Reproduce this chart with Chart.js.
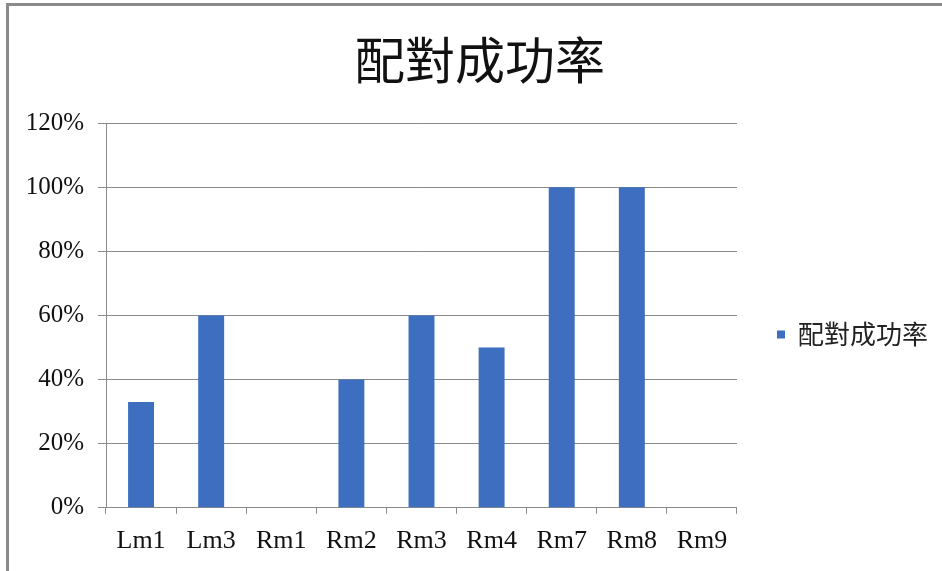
<!DOCTYPE html>
<html lang="zh-Hant">
<head>
<meta charset="UTF-8">
<title>配對成功率</title>
<style>
  body { margin: 0; background: #fff; }
  #wrap { position: relative; width: 942px; height: 571px; background: #fff; }
  #frame { position: absolute; left: 6px; top: 3px; right: -4px; bottom: -4px;
           border-left: 3px solid #8a8a8a; border-top: 3px solid #8a8a8a; }
  canvas { position: absolute; left: 0; top: 0; }
</style>
</head>
<body>
<div id="wrap">
  <div id="frame"></div>
  <canvas id="chart" width="942" height="571"></canvas>
</div>

<script src="https://cdn.jsdelivr.net/npm/chart.js@4.4.0/dist/chart.umd.min.js"></script>
<script>
// categories and success rate (%) per marker
var labels = ["Lm1", "Lm3", "Rm1", "Rm2", "Rm3", "Rm4", "Rm7", "Rm8", "Rm9"];
var rates  = [33, 60, 0, 40, 60, 50, 100, 100, 0];
var yTicks = [0, 20, 40, 60, 80, 100, 120];

var serif = "'Liberation Serif', 'Times New Roman', serif";
var cjk = "'Noto Sans CJK TC', 'Noto Sans CJK SC', sans-serif";

// push the legend away from the plot and re-centre the title over the whole box
var nudgeBoxes = {
    id: "nudgeBoxes",
    afterLayout: function (chart) {
        var lg = chart.legend;
        if (lg) {
            lg.left += 30; lg.right += 30;
            lg.top += 19; lg.bottom += 19;
        }
        var tb = chart.titleBlock;
        if (tb) { tb.left += 16; tb.right += 16; }
    }
};

var ctx = document.getElementById("chart").getContext("2d");
new Chart(ctx, {
    type: "bar",
    data: {
        labels: labels,
        datasets: [{
            label: "配對成功率",
            data: rates,
            backgroundColor: "#3d6ec0",
            borderWidth: 0,
            barPercentage: 0.37,
            categoryPercentage: 1.0
        }]
    },
    options: {
        responsive: false,
        animation: false,
        layout: { padding: { left: 20, right: 34, top: 0, bottom: 2 } },
        plugins: {
            title: {
                display: true,
                text: "配對成功率",
                color: "#111",
                font: { family: cjk, size: 50, weight: "normal" },
                padding: { top: 30, bottom: 33 }
            },
            legend: {
                display: true,
                position: "right",
                fullSize: false,
                labels: {
                    boxWidth: 8,
                    boxHeight: 8,
                    color: "#222",
                    font: { family: cjk, size: 26 },
                    padding: 10
                }
            },
            tooltip: { enabled: false }
        },
        scales: {
            x: {
                grid: { drawOnChartArea: false, drawTicks: true, tickLength: 6, color: "#8a8a8a" },
                border: { color: "#8a8a8a" },
                ticks: { color: "#111", padding: 12, font: { family: serif, size: 26 } }
            },
            y: {
                min: 0,
                max: 120,
                afterBuildTicks: function (scale) {
                    scale.ticks = yTicks.map(function (v) { return { value: v }; });
                },
                afterFit: function (scale) { scale.width = 86; },
                grid: { color: "#8a8a8a", tickLength: 8 },
                border: { color: "#8a8a8a" },
                ticks: {
                    color: "#111",
                    padding: 14,
                    font: { family: serif, size: 25 },
                    callback: function (v) { return v + "%"; }
                }
            }
        }
    },
    plugins: [nudgeBoxes]
});
</script>
</body>
</html>
